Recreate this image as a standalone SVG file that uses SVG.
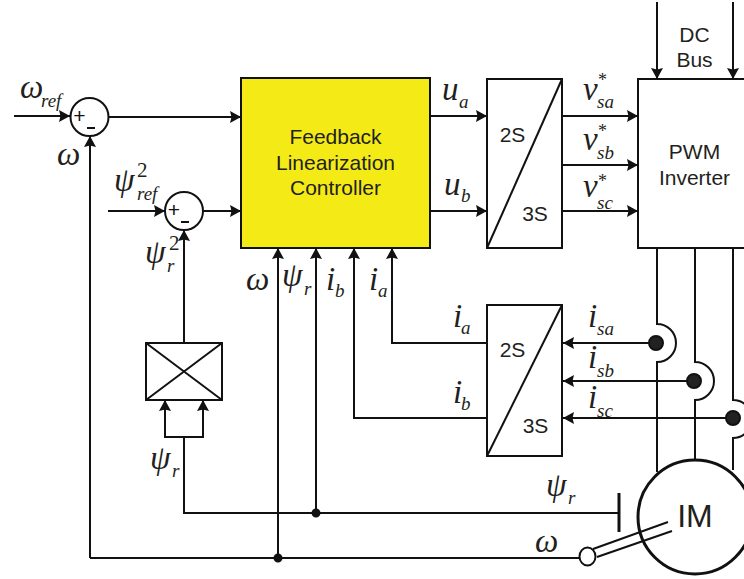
<svg xmlns="http://www.w3.org/2000/svg" width="744" height="579" viewBox="0 0 744 579">
<style>
.l{fill:none;stroke:#111;stroke-width:2}
.b{fill:#fff;stroke:#111;stroke-width:2}
.t{font-family:"Liberation Sans",Arial,sans-serif;font-size:21px;fill:#231f20;text-anchor:middle}
.p{font-family:"Liberation Sans",Arial,sans-serif;font-size:21px;fill:#111;text-anchor:middle}
.m{font-family:"Liberation Serif","Times New Roman",serif;font-style:italic;fill:#231f20}
.g{font-size:33px}.s{font-size:19px}
.n{font-family:"Liberation Serif","Times New Roman",serif;fill:#231f20;font-size:21px}
.a{font-family:"Liberation Serif","Times New Roman",serif;fill:#231f20;font-size:18px}
</style>
<defs><marker id="a" markerUnits="userSpaceOnUse" markerWidth="12" markerHeight="12" refX="11" refY="6" orient="auto"><path d="M0,0L11,6L0,12L1.500,6Z" fill="#111"/></marker></defs>
<rect width="744" height="579" fill="#fff"/>
<g id="connectors" class="l">
<path d="M14,116H70" marker-end="url(#a)"/>
<path d="M109,117H241" marker-end="url(#a)"/>
<path d="M108,211H165" marker-end="url(#a)"/>
<path d="M203,211H241" marker-end="url(#a)"/>
<path d="M90,558V136" marker-end="url(#a)"/>
<path d="M184,343V230" marker-end="url(#a)"/>
<path d="M430,116H487" marker-end="url(#a)"/>
<path d="M430,211H487" marker-end="url(#a)"/>
<path d="M562,116H638" marker-end="url(#a)"/>
<path d="M562,165H638" marker-end="url(#a)"/>
<path d="M562,211H638" marker-end="url(#a)"/>
<path d="M657,2V79" marker-end="url(#a)"/>
<path d="M733,2V79" marker-end="url(#a)"/>
<path d="M278,558V248" marker-end="url(#a)"/>
<path d="M316,513V248" marker-end="url(#a)"/>
<path d="M487,418H354V248" marker-end="url(#a)"/>
<path d="M487,343H392V248" marker-end="url(#a)"/>
<path d="M656,343H563" marker-end="url(#a)"/>
<path d="M694,381H563" marker-end="url(#a)"/>
<path d="M733,418H563" marker-end="url(#a)"/>
<path d="M184,437H165V400" marker-end="url(#a)"/>
<path d="M184,437H203V400" marker-end="url(#a)"/>
<path d="M184,437V513H619"/>
<path d="M619,493V532" stroke-width="3"/>
<path d="M90,558H579"/>
<path d="M593,549L668,522M597,557L672,531"/>
<path d="M657,248V324A19,19 0 0 1 657,362V472"/>
<path d="M695,248V362A19,19 0 0 1 695,400V461"/>
<path d="M733,248V400A19,19 0 0 1 733,438V470"/>
<circle cx="316" cy="513" r="3.500" fill="#111"/>
<circle cx="278" cy="558" r="3.500" fill="#111"/>
<circle cx="656" cy="343" r="7" fill="#222"/>
<circle cx="694" cy="381" r="7" fill="#222"/>
<circle cx="733" cy="418" r="7" fill="#222"/>
</g>
<g id="sum1"><circle class="b" cx="89.500" cy="117" r="19"/><text class="p" x="79.500" y="123">+</text><path class="l" d="M87,128H95"/></g>
<g id="sum2"><circle class="b" cx="184" cy="211" r="19"/><text class="p" x="174" y="217">+</text><path class="l" d="M181,222H189"/></g>
<g id="controller"><rect x="241" y="78" width="189" height="170" fill="#f3ea16" stroke="#111" stroke-width="2"/><text class="t" x="335.500" y="144">Feedback</text><text class="t" x="335.500" y="170">Linearization</text><text class="t" x="335.500" y="195">Controller</text></g>
<g id="transform-top"><rect class="b" x="487" y="79" width="75" height="169"/><path class="l" d="M487,248L562,79"/><text class="t" x="512.500" y="142">2S</text><text class="t" x="535" y="221">3S</text></g>
<g id="transform-bottom"><rect class="b" x="487" y="305" width="75" height="151"/><path class="l" d="M487,456L562,305"/><text class="t" x="512.500" y="357">2S</text><text class="t" x="535.500" y="433">3S</text></g>
<g id="inverter"><path class="b" d="M746,79H638V248H746"/><text class="t" x="694.500" y="159">PWM</text><text class="t" x="694.500" y="185">Inverter</text></g>
<g id="multiplier"><rect class="b" x="146" y="343" width="76" height="57"/><path class="l" d="M146,343L222,400M222,343L146,400"/></g>
<g id="motor"><circle cx="695" cy="517" r="57" fill="none" stroke="#111" stroke-width="3"/><text x="695" y="527" font-family="Liberation Sans" font-size="32" text-anchor="middle" fill="#231f20">IM</text></g>
<g id="encoder"><ellipse class="b" cx="587.500" cy="556.500" rx="8" ry="9"/></g>
<g id="labels">
<text class="t" x="694.500" y="42">DC</text><text class="t" x="694.500" y="67">Bus</text>
<text class="m g" x="20" y="98">ω</text><text class="m s" x="41" y="107">ref</text>
<text class="m g" x="57" y="165">ω</text>
<text class="m g" x="114" y="191">ψ</text><text class="m s" x="137" y="200">ref</text><text class="n" x="137" y="177">2</text>
<text class="m g" x="145" y="263">ψ</text><text class="m s" x="167" y="272">r</text><text class="n" x="169" y="250">2</text>
<text class="m g" x="246" y="290">ω</text>
<text class="m g" x="282" y="286">ψ</text><text class="m s" x="304" y="295">r</text>
<text class="m g" x="326" y="290">i</text><text class="m s" x="335" y="297">b</text>
<text class="m g" x="369" y="290">i</text><text class="m s" x="378" y="297">a</text>
<text class="m g" x="442" y="100">u</text><text class="m s" x="459" y="108">a</text>
<text class="m g" x="444" y="195">u</text><text class="m s" x="461" y="202">b</text>
<text class="m g" x="583" y="100">v</text><text class="m s" x="597" y="108">sa</text><text class="a" x="598" y="86">*</text>
<text class="m g" x="583" y="150">v</text><text class="m s" x="597" y="159">sb</text><text class="a" x="598" y="137">*</text>
<text class="m g" x="583" y="197">v</text><text class="m s" x="597" y="209">sc</text><text class="a" x="598" y="187">*</text>
<text class="m g" x="453" y="327">i</text><text class="m s" x="461" y="334">a</text>
<text class="m g" x="453" y="403">i</text><text class="m s" x="461" y="410">b</text>
<text class="m g" x="588" y="327">i</text><text class="m s" x="597" y="335">sa</text>
<text class="m g" x="588" y="368">i</text><text class="m s" x="597" y="377">sb</text>
<text class="m g" x="588" y="408">i</text><text class="m s" x="597" y="417">sc</text>
<text class="m g" x="150" y="469">ψ</text><text class="m s" x="172" y="477">r</text>
<text class="m g" x="546" y="496">ψ</text><text class="m s" x="568" y="504">r</text>
<text class="m g" x="535" y="552">ω</text>
</g>
</svg>
